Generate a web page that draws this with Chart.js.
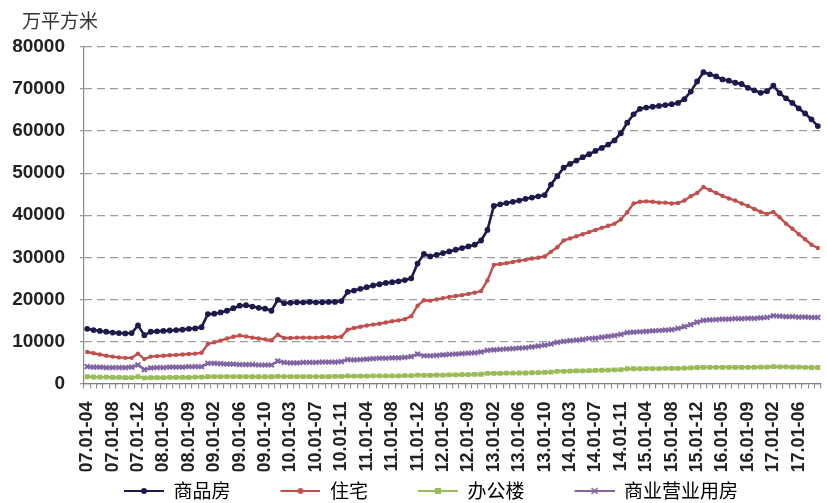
<!DOCTYPE html>
<html>
<head>
<meta charset="utf-8">
<script src="https://cdn.jsdelivr.net/npm/chart.js@4/dist/chart.umd.min.js"></script>
<style>
  html, body { margin: 0; padding: 0; background: #ffffff; }
  #wrap { width: 827px; height: 503px; }
</style>
</head>
<body>
<div id="wrap"><canvas id="c" width="827" height="503"></canvas></div>
<script>
// Cumulative periods: 2007 starts at Jan–Apr, later years start at Jan–Feb
const years = ['07', '08', '09', '10', '11', '12', '13', '14', '15', '16', '17'];
const firstYearMonths = ['04', '05', '06', '07', '08', '09', '10', '11', '12'];
const fullYearMonths = ['02', '03', '04', '05', '06', '07', '08', '09', '10', '11', '12'];
const lastYearMonths = ['02', '03', '04', '05', '06', '07', '08', '09'];

const categories = [];
years.forEach((y, k) => {
  const months = k === 0 ? firstYearMonths : (k === years.length - 1 ? lastYearMonths : fullYearMonths);
  months.forEach(m => categories.push(y + '.01-' + m));
});

// 待售面积（万平方米）
const commercialHousing = [
  13000, 12700, 12500, 12300, 12100, 12000, 11900, 12000, 13800,
  11500, 12300, 12400, 12500, 12600, 12700, 12800, 13000, 13100, 13400, 16500,
  16600, 16900, 17300, 17900, 18500, 18600, 18300, 18000, 17800, 17300, 19900,
  19100, 19200, 19300, 19300, 19400, 19300, 19300, 19400, 19400, 19600, 21800,
  22100, 22500, 22900, 23300, 23600, 23900, 24100, 24300, 24600, 25000, 28500,
  30800, 30200, 30600, 31000, 31400, 31800, 32200, 32600, 33000, 34000, 36500,
  42200, 42600, 42900, 43200, 43500, 43900, 44200, 44500, 44800, 47300, 49300,
  51300, 52200, 53000, 53800, 54500, 55300, 56000, 56800, 57800, 59500, 62000,
  64000, 65300, 65600, 65800, 66000, 66200, 66400, 66700, 67600, 69400, 71800,
  74000, 73500, 73000, 72300, 72000, 71500, 71200, 70300, 69700, 69100, 69500,
  70800, 69000, 67800, 66700, 65400, 64200, 62800, 61200
];

const residential = [
  7500, 7200, 6900, 6600, 6400, 6200, 6100, 6100, 7100,
  5800, 6400, 6500, 6600, 6700, 6800, 6900, 7000, 7100, 7300, 9400,
  9800, 10200, 10700, 11100, 11400, 11200, 10900, 10700, 10500, 10300, 11600,
  10800, 10800, 10900, 10900, 10900, 10900, 11000, 11000, 11000, 11100, 12800,
  13200, 13500, 13800, 14000, 14200, 14500, 14800, 15000, 15300, 16000, 18500,
  19800, 19700, 20000, 20300, 20600, 20800, 21000, 21300, 21600, 22000, 24500,
  28200, 28400, 28600, 28900, 29200, 29400, 29700, 29900, 30200, 31300, 32400,
  34000, 34500, 35000, 35500, 36000, 36500, 37000, 37500, 38000, 39000, 40700,
  42800, 43200, 43300, 43200, 43000, 43000, 42800, 42900, 43500, 44500, 45300,
  46700, 46000, 45300, 44600, 44000, 43500, 42800, 42200, 41500, 40800, 40300,
  40800, 39500, 38000, 36800, 35500, 34300, 33000, 32200
];

const office = [
  1600, 1550, 1500, 1500, 1450, 1450, 1400, 1400, 1600,
  1350, 1400, 1400, 1400, 1450, 1450, 1450, 1450, 1500, 1500, 1650,
  1650, 1650, 1650, 1650, 1650, 1650, 1600, 1600, 1600, 1600, 1700,
  1650, 1650, 1650, 1650, 1650, 1650, 1650, 1650, 1700, 1700, 1800,
  1750, 1750, 1750, 1800, 1800, 1800, 1800, 1800, 1850, 1850, 2000,
  1950, 1950, 2000, 2000, 2050, 2050, 2100, 2100, 2150, 2200, 2400,
  2400, 2400, 2450, 2450, 2500, 2500, 2550, 2600, 2650, 2700, 2900,
  2900, 2950, 3000, 3000, 3050, 3100, 3150, 3200, 3250, 3300, 3500,
  3500, 3500, 3550, 3550, 3550, 3600, 3600, 3600, 3650, 3700, 3800,
  3850, 3850, 3850, 3850, 3850, 3850, 3850, 3850, 3850, 3900, 3900,
  4000, 3950, 3950, 3900, 3900, 3850, 3800, 3800
];

const retail = [
  4000, 3900, 3900, 3800, 3800, 3800, 3800, 3900, 4400,
  3300, 3700, 3800, 3800, 3900, 3900, 3900, 4000, 4000, 4000, 4800,
  4800, 4700, 4600, 4600, 4500, 4500, 4500, 4400, 4400, 4400, 5300,
  5000, 4900, 4900, 5000, 5000, 5000, 5100, 5100, 5100, 5200, 5700,
  5600, 5700, 5800, 5900, 6000, 6000, 6100, 6100, 6200, 6400, 7000,
  6600, 6600, 6700, 6800, 6900, 7000, 7100, 7200, 7300, 7500, 7900,
  8000, 8100, 8200, 8300, 8400, 8500, 8700, 8900, 9100, 9400, 9800,
  10000, 10200, 10300, 10500, 10700, 10800, 11000, 11200, 11400, 11700, 12100,
  12200, 12300, 12400, 12500, 12600, 12700, 12800, 13100, 13500, 14000, 14600,
  15000, 15100, 15200, 15300, 15300, 15400, 15400, 15500, 15500, 15600, 15700,
  16100, 16000, 15900, 15900, 15800, 15800, 15700, 15700
];

const seriesNames = ['商品房', '住宅', '办公楼', '商业营业用房'];
const yTicks = [0, 10000, 20000, 30000, 40000, 50000, 60000, 70000, 80000];
const unitLabel = '万平方米';

const colors = ['#1d1a4b', '#c0504d', '#9bbb59', '#8064a2'];
const markerStyles = ['circle', 'circle', 'rect', 'crossRot'];
const markerRadius = [2.9, 2.2, 3.4, 3.4];
const lineWidths = [2.6, 2.4, 2.6, 2.6];

// Legend swatch: transparent lead-in, then a short line with the series marker
function legendSwatch(color, style) {
  const w = 80, h = 12;
  const cv = document.createElement('canvas');
  cv.width = w; cv.height = h;
  const g = cv.getContext('2d');
  const x0 = 40, x1 = 80, cy = h / 2, cx = (x0 + x1) / 2;
  g.strokeStyle = color; g.lineWidth = 2;
  g.beginPath(); g.moveTo(x0, cy); g.lineTo(x1, cy); g.stroke();
  g.fillStyle = color;
  if (style === 'circle') {
    g.beginPath(); g.arc(cx, cy, 3, 0, Math.PI * 2); g.fill();
  } else if (style === 'rect') {
    g.fillRect(cx - 3, cy - 3, 6, 6);
  } else {
    g.lineWidth = 1.6;
    g.beginPath();
    g.moveTo(cx - 3, cy - 3); g.lineTo(cx + 3, cy + 3);
    g.moveTo(cx + 3, cy - 3); g.lineTo(cx - 3, cy + 3);
    g.stroke();
  }
  return cv;
}

const swatches = colors.map((c, i) => legendSwatch(c, markerStyles[i]));

const unitTitle = {
  id: 'unitTitle',
  afterDraw(chart) {
    const ctx = chart.ctx;
    ctx.save();
    ctx.font = '19px "Noto Sans CJK SC", sans-serif';
    ctx.fillStyle = '#333333';
    ctx.textBaseline = 'middle';
    ctx.textAlign = 'left';
    ctx.fillText(unitLabel, 22, 21);
    ctx.restore();
  }
};

const seriesData = [commercialHousing, residential, office, retail];
const xTickFont = { family: 'Arial, "Liberation Sans", sans-serif', size: 18, weight: 'bold' };
const yTickFont = { family: 'Arial, "Liberation Sans", sans-serif', size: 19, weight: 'bold' };
const gridDash = [8, 5];
const axisColor = '#8a8a8a';

new Chart(document.getElementById('c'), {
  type: 'line',
  data: {
    labels: categories,
    datasets: seriesNames.map((name, i) => ({
      label: name,
      data: seriesData[i],
      borderColor: colors[i],
      backgroundColor: colors[i],
      borderWidth: lineWidths[i],
      pointStyle: markerStyles[i],
      pointRadius: markerRadius[i],
      pointBorderWidth: i === 3 ? 2 : 0,
      pointBackgroundColor: colors[i],
      pointBorderColor: colors[i],
      tension: 0,
      fill: false
    })).reverse()
  },
  options: {
    responsive: false,
    devicePixelRatio: 1,
    animation: false,
    layout: { padding: { left: 1, right: 6, top: 47, bottom: -7.5 } },
    plugins: {
      tooltip: { enabled: false },
      legend: {
        position: 'bottom',
        labels: {
          usePointStyle: true,
          pointStyleWidth: 80,
          boxHeight: 12,
          padding: 10,
          color: '#222222',
          font: { family: '"Noto Sans CJK SC", sans-serif', size: 19 },
          generateLabels: () => seriesNames.map((name, i) => ({
            text: name,
            pointStyle: swatches[i],
            fillStyle: colors[i],
            strokeStyle: colors[i],
            lineWidth: 0,
            hidden: false,
            datasetIndex: 3 - i
          }))
        }
      }
    },
    scales: {
      x: {
        type: 'category',
        offset: true,
        border: { display: true, color: '#7f7f7f', width: 1.2 },
        // only the first category boundary is drawn across the plot: it forms the solid vertical axis line
        grid: {
          drawOnChartArea: true,
          drawTicks: true,
          tickLength: 5,
          offset: true,
          lineWidth: 1.2,
          color: c => (c.index === 0 ? axisColor : 'rgba(0,0,0,0)'),
          tickColor: '#7f7f7f',
          tickWidth: 1
        },
        ticks: {
          autoSkip: false,
          minRotation: 90,
          maxRotation: 90,
          padding: 13,
          color: '#222222',
          font: xTickFont,
          callback: (v, i) => (i % 4 === 0 ? categories[i] : '')
        },
        afterFit: s => { s.height = 88; s.paddingLeft = 0; s.paddingRight = 0; }
      },
      y: {
        min: 0,
        max: 80000,
        afterBuildTicks: s => { s.ticks = yTicks.map(v => ({ value: v })); },
        // border.dash sets the dash pattern of the horizontal grid lines; the axis line itself comes from the x grid
        border: { display: false, dash: gridDash },
        grid: {
          color: '#9c9c9c',
          lineWidth: 1.3,
          tickLength: 4,
          tickColor: '#9c9c9c',
          tickBorderDash: gridDash
        },
        ticks: {
          padding: 15,
          color: '#222222',
          font: yTickFont,
          callback: v => String(v)
        },
        afterFit: s => { s.width = 83; }
      }
    }
  },
  plugins: [unitTitle]
});
</script>
</body>
</html>
